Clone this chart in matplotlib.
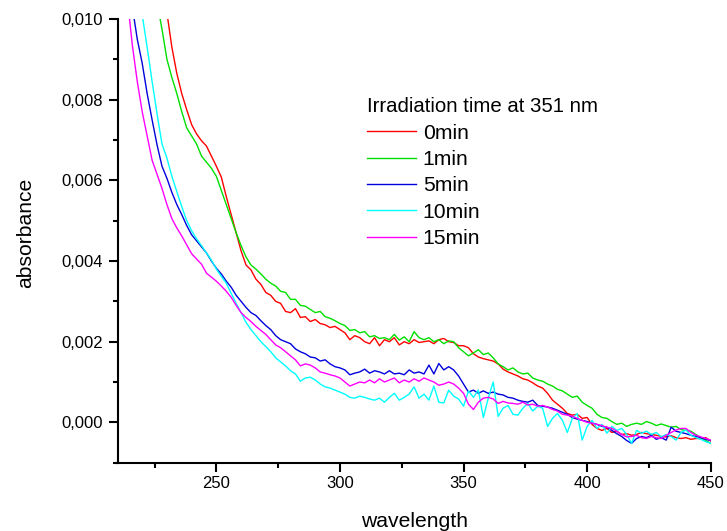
import numpy as np
import matplotlib
matplotlib.use("Agg")
import matplotlib.pyplot as plt
from matplotlib.ticker import FuncFormatter, MultipleLocator

plt.rcParams['font.family'] = ['Liberation Sans', 'DejaVu Sans']

# wavelength grid (nm), 212..450 step 2
wavelength = list(range(212, 451, 2))

# absorbance values in units of 1e-3
abs_0min = [
    18, 17, 16, 15, 14.2, 13.4, 12.6, 11.8, 11.1, 10.15,
    9.3, 8.65, 8.15, 7.75, 7.38, 7.15, 6.98, 6.85, 6.6, 6.35,
    6.08, 5.6, 5.15, 4.7, 4.25, 3.9, 3.78, 3.55, 3.42, 3.22,
    3.15, 3.0, 2.95, 2.75, 2.72, 2.82, 2.6, 2.62, 2.5, 2.55,
    2.45, 2.42, 2.35, 2.38, 2.3, 2.22, 2.05, 2.15, 2.1, 2.0,
    1.95, 2.1, 1.9, 2.05, 2.0, 2.1, 1.92, 2.0, 1.95, 2.05,
    1.98, 2.0, 2.02, 1.95, 2.05, 2.08, 2.0, 1.98, 1.9, 1.9,
    1.85, 1.7, 1.62, 1.58, 1.55, 1.52, 1.45, 1.32, 1.25, 1.2,
    1.15, 1.08, 1.05, 0.98, 0.9, 0.85, 0.72, 0.55, 0.45, 0.35,
    0.22, 0.18, 0.2, 0.1, 0.12, -0.05, -0.15, -0.2, -0.15, -0.25,
    -0.22, -0.3, -0.28, -0.32, -0.3, -0.25, -0.28, -0.3, -0.32, -0.35,
    -0.36, -0.33, -0.38, -0.4, -0.38, -0.42, -0.4, -0.4, -0.38, -0.46,
]
abs_1min = [
    15.6, 14.8, 14.0, 13.2, 12.5, 11.8, 11.1, 10.4, 9.75, 9.0,
    8.55, 8.15, 7.7, 7.3, 7.1, 6.9, 6.6, 6.45, 6.3, 6.1,
    5.75, 5.4, 5.05, 4.7, 4.38, 4.1, 3.9, 3.8, 3.68, 3.55,
    3.45, 3.38, 3.25, 3.22, 3.05, 3.05, 2.9, 2.88, 2.8, 2.72,
    2.75, 2.62, 2.58, 2.52, 2.45, 2.4, 2.28, 2.3, 2.22, 2.25,
    2.12, 2.15, 2.08, 2.1, 2.05, 2.18, 2.04, 2.12, 2.0, 2.25,
    2.1, 2.05, 2.1, 2.0, 2.05, 1.95, 2.02, 2.0, 1.85, 1.75,
    1.65, 1.72, 1.8, 1.68, 1.72, 1.6, 1.45, 1.38, 1.3, 1.35,
    1.25, 1.2, 1.22, 1.1, 1.05, 1.02, 0.95, 0.9, 0.82, 0.78,
    0.7, 0.62, 0.65, 0.5, 0.42, 0.35, 0.2, 0.12, 0.1, 0.02,
    -0.05, -0.02, -0.1, -0.05, -0.02, -0.05, 0.02, -0.02, -0.08, -0.04,
    -0.08, -0.12, -0.1, -0.18, -0.2, -0.22, -0.3, -0.38, -0.45, -0.52,
]
abs_5min = [
    11.8, 11.0, 10.3, 9.5, 8.9, 8.15, 7.5, 6.88, 6.35, 6.05,
    5.7, 5.4, 5.15, 4.88, 4.65, 4.5, 4.35, 4.2, 4.0, 3.82,
    3.68, 3.5, 3.35, 3.15, 3.0, 2.85, 2.72, 2.65, 2.52, 2.4,
    2.3, 2.15, 2.05, 2.0, 1.95, 1.82, 1.75, 1.7, 1.62, 1.6,
    1.52, 1.55, 1.45, 1.38, 1.35, 1.3, 1.18, 1.22, 1.25, 1.32,
    1.22, 1.28, 1.25, 1.2, 1.28, 1.2, 1.22, 1.18, 1.3, 1.22,
    1.25, 1.2, 1.42, 1.2, 1.46, 1.3, 1.38, 1.3, 1.15, 0.95,
    0.75, 0.8, 0.72, 0.78, 0.72, 0.75, 0.7, 0.68, 0.62, 0.6,
    0.55, 0.52, 0.5, 0.55, 0.42, 0.4, 0.38, 0.35, 0.3, 0.25,
    0.2, 0.12, 0.08, 0.05, 0.02, -0.02, -0.05, -0.1, -0.12, -0.2,
    -0.28, -0.35, -0.45, -0.52, -0.4, -0.35, -0.38, -0.32, -0.42, -0.38,
    -0.44, -0.12, -0.22, -0.25, -0.28, -0.32, -0.35, -0.38, -0.42, -0.45,
]
abs_10min = [
    13.6, 12.8, 11.9, 11.0, 10.1, 9.3, 8.45, 7.65, 6.9, 6.55,
    6.1, 5.72, 5.35, 5.0, 4.75, 4.55, 4.38, 4.2, 4.02, 3.8,
    3.62, 3.45, 3.2, 2.95, 2.72, 2.48, 2.3, 2.15, 2.0, 1.88,
    1.75, 1.6, 1.5, 1.4, 1.28, 1.2, 1.02, 1.1, 1.12, 1.05,
    0.95, 0.88, 0.85, 0.8, 0.75, 0.7, 0.62, 0.6, 0.65, 0.62,
    0.58, 0.55, 0.6, 0.5, 0.62, 0.72, 0.55, 0.62, 0.7, 0.88,
    0.6, 0.7, 0.55, 0.9, 0.5, 0.48, 0.8, 0.65, 0.58, 0.4,
    0.78, 0.62, 0.8, 0.12, 0.6, 1.0, 0.15, 0.35, 0.42, 0.2,
    0.18, 0.35, 0.47, 0.28, 0.4, 0.35, -0.1, 0.1, 0.22, 0.05,
    -0.25, 0.1, 0.22, -0.44, -0.1, 0.05, -0.15, -0.05, -0.27, -0.1,
    -0.2, -0.15, -0.3, -0.52, -0.2, -0.27, -0.22, -0.3, -0.25, -0.36,
    -0.3, -0.35, -0.44, -0.25, -0.19, -0.32, -0.38, -0.42, -0.48, -0.52,
]
abs_15min = [
    11.5, 10.5, 9.35, 8.45, 7.7, 7.1, 6.5, 6.15, 5.8, 5.4,
    5.05, 4.82, 4.62, 4.4, 4.18, 4.05, 3.92, 3.7, 3.6, 3.5,
    3.38, 3.25, 3.1, 2.9, 2.72, 2.6, 2.5, 2.38, 2.28, 2.18,
    2.05, 1.92, 1.85, 1.75, 1.65, 1.55, 1.4, 1.45, 1.42, 1.35,
    1.25, 1.22, 1.18, 1.15, 1.1, 1.0, 0.9, 0.95, 1.0, 0.98,
    1.05, 0.98, 1.08, 1.0, 1.05, 1.1, 0.98, 1.05, 1.0, 1.08,
    1.02, 1.1, 1.05, 1.0, 0.92, 0.95, 1.0, 0.95, 0.85, 0.72,
    0.45, 0.32, 0.5, 0.6, 0.62, 0.58, 0.47, 0.52, 0.48, 0.47,
    0.45, 0.5, 0.43, 0.45, 0.4, 0.42, 0.38, 0.32, 0.28, 0.2,
    0.18, 0.15, 0.1, 0.05, 0.0, -0.02, -0.05, -0.08, -0.12, -0.15,
    -0.22, -0.3, -0.36, -0.35, -0.32, -0.38, -0.4, -0.35, -0.38, -0.4,
    -0.32, -0.25, -0.19, -0.15, -0.15, -0.25, -0.32, -0.36, -0.4, -0.44,
]

labels = ['0min', '1min', '5min', '10min', '15min']
colors = ['#ff0000', '#00e000', '#0000dd', '#00ffff', '#ff00ff']
series = [abs_0min, abs_1min, abs_5min, abs_10min, abs_15min]

fig = plt.figure(figsize=(7.27, 5.31), dpi=100)
ax = fig.add_axes([117.5/727, 1-462.7/531, 593.2/727, 443.7/531])

wl = np.array(wavelength)
for vals, lab, col in zip(series, labels, colors):
    ax.plot(wl, np.array(vals) * 1e-3, color=col, lw=1.0, label=lab)

ax.set_xlim(210, 450)
ax.set_ylim(-0.001, 0.010)
ax.xaxis.set_major_locator(MultipleLocator(50))
ax.xaxis.set_minor_locator(MultipleLocator(25))
ax.yaxis.set_major_locator(MultipleLocator(0.002))
ax.yaxis.set_minor_locator(MultipleLocator(0.001))
ax.yaxis.set_major_formatter(FuncFormatter(lambda v, p: f"{v:.3f}".replace('.', ',').replace('-0,000', '0,000')))

for s in ['top', 'right']:
    ax.spines[s].set_visible(False)
for s in ['left', 'bottom']:
    ax.spines[s].set_linewidth(1.5)
ax.tick_params(which='major', direction='out', length=6.5, width=1.5, labelsize=12)
ax.tick_params(which='minor', direction='out', length=3.6, width=1.5)
ax.tick_params(axis='x', which='major', pad=3)
ax.tick_params(axis='y', which='major', pad=4)

ax.set_xlabel('wavelength', fontsize=15.2)
ax.set_ylabel('absorbance', fontsize=15.2)
ax.xaxis.set_label_coords(0.5, -0.111)
ax.yaxis.set_label_coords(-0.139, 0.518)

leg = ax.legend(title='Irradiation time at 351 nm', frameon=False, fontsize=15.2,
                title_fontsize=14.7, loc='upper left', bbox_to_anchor=(0.4088, 0.8395),
                borderpad=0.33, borderaxespad=0, handlelength=2.34, handletextpad=0.3,
                labelspacing=0.35, alignment='left')

fig.savefig('out.png', dpi=100)
